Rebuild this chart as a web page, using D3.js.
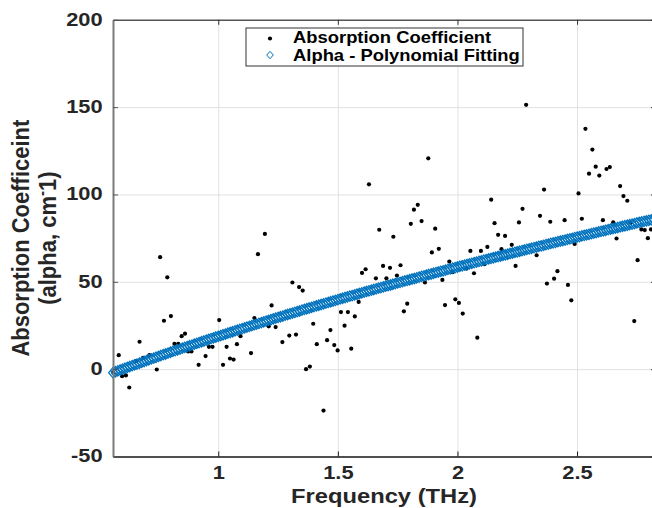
<!DOCTYPE html>
<html>
<head>
<meta charset="utf-8">
<script src="https://cdn.jsdelivr.net/npm/d3@7"></script>
<style>
html, body { margin: 0; padding: 0; background: #fff; }
svg { display: block; font-family: "Liberation Sans", Arial, Helvetica, sans-serif; font-weight: bold; }
</style>
</head>
<body>
<div id="chart"></div>
<script>
// measured points (THz, cm^-1)
const freq = [0.561,0.584,0.598,0.614,0.628,0.657,0.671,0.686,0.712,0.743,0.757,0.773,0.787,0.802,0.817,0.833,0.847,0.861,0.874,0.888,
  0.918,0.947,0.961,0.976,1.004,1.020,1.035,1.049,1.064,1.078,1.093,1.137,1.151,1.166,1.195,1.211,1.223,1.240,1.268,1.297,
  1.310,1.325,1.338,1.353,1.367,1.383,1.397,1.412,1.440,1.455,1.469,1.485,1.499,1.513,1.528,1.542,1.556,1.571,1.587,1.601,
  1.616,1.630,1.659,1.673,1.689,1.703,1.718,1.732,1.747,1.762,1.776,1.790,1.805,1.818,1.834,1.850,1.864,1.878,1.893,1.907,
  1.922,1.937,1.948,1.966,1.980,1.991,2.006,2.022,2.038,2.054,2.069,2.083,2.098,2.112,2.125,2.141,2.155,2.170,2.184,2.199,
  2.227,2.243,2.257,2.272,2.287,2.331,2.345,2.362,2.374,2.388,2.404,2.418,2.448,2.462,2.476,2.490,2.506,2.520,2.535,2.550,
  2.564,2.578,2.593,2.608,2.623,2.637,2.651,2.665,2.680,2.694,2.710,2.724,2.739,2.753,2.769,2.783,2.796,2.809];
const alpha = [-2.1,8.0,-4.0,-3.6,-10.5,4.6,15.7,6.5,8.0,-0.2,64.1,27.7,52.6,30.4,14.5,14.5,18.9,20.3,10.1,10.1,
  2.5,7.5,12.8,12.8,28.1,2.5,12.8,6.1,5.5,14.3,18.9,9.2,29.3,65.8,77.4,24.5,36.5,24.1,15.5,19.2,
  49.6,19.8,47.0,45.0,0.0,1.5,26.0,14.3,-23.7,16.6,22.4,13.8,10.7,32.7,24.9,32.7,11.7,30.2,38.5,55.1,
  57.2,105.8,52.0,79.8,59.1,52.0,58.0,75.8,53.6,59.5,33.1,37.5,83.2,91.3,94.1,84.8,49.6,120.7,66.8,80.4,
  68.9,51.1,36.7,61.6,55.5,40.0,37.9,31.8,57.6,67.7,54.9,18.0,67.7,60.1,70.0,97.0,83.6,76.9,68.7,76.3,
  71.2,59.1,84.0,91.8,151.3,65.2,87.8,102.8,49.0,84.4,51.8,56.1,85.3,48.2,39.4,71.7,100.6,86.1,137.6,111.9,
  125.7,115.9,110.8,85.3,114.6,115.7,84.0,74.8,104.8,99.1,96.4,83.8,27.5,62.4,80.0,79.6,75.0,80.0];

// polynomial fit curve
const fitFreq = [0.56,0.57,0.58,0.59,0.60,
  0.61,0.62,0.63,0.64,0.65,0.66,0.67,0.68,0.69,0.70,
  0.71,0.72,0.73,0.74,0.75,0.76,0.77,0.78,0.79,0.80,
  0.81,0.82,0.83,0.84,0.85,0.86,0.87,0.88,0.89,0.90,
  0.91,0.92,0.93,0.94,0.95,0.96,0.97,0.98,0.99,1.00,
  1.01,1.02,1.03,1.04,1.05,1.06,1.07,1.08,1.09,1.10,
  1.11,1.12,1.13,1.14,1.15,1.16,1.17,1.18,1.19,1.20,
  1.21,1.22,1.23,1.24,1.25,1.26,1.27,1.28,1.29,1.30,
  1.31,1.32,1.33,1.34,1.35,1.36,1.37,1.38,1.39,1.40,
  1.41,1.42,1.43,1.44,1.45,1.46,1.47,1.48,1.49,1.50,
  1.51,1.52,1.53,1.54,1.55,1.56,1.57,1.58,1.59,1.60,
  1.61,1.62,1.63,1.64,1.65,1.66,1.67,1.68,1.69,1.70,
  1.71,1.72,1.73,1.74,1.75,1.76,1.77,1.78,1.79,1.80,
  1.81,1.82,1.83,1.84,1.85,1.86,1.87,1.88,1.89,1.90,
  1.91,1.92,1.93,1.94,1.95,1.96,1.97,1.98,1.99,2.00,
  2.01,2.02,2.03,2.04,2.05,2.06,2.07,2.08,2.09,2.10,
  2.11,2.12,2.13,2.14,2.15,2.16,2.17,2.18,2.19,2.20,
  2.21,2.22,2.23,2.24,2.25,2.26,2.27,2.28,2.29,2.30,
  2.31,2.32,2.33,2.34,2.35,2.36,2.37,2.38,2.39,2.40,
  2.41,2.42,2.43,2.44,2.45,2.46,2.47,2.48,2.49,2.50,
  2.51,2.52,2.53,2.54,2.55,2.56,2.57,2.58,2.59,2.60,
  2.61,2.62,2.63,2.64,2.65,2.66,2.67,2.68,2.69,2.70,
  2.71,2.72,2.73,2.74,2.75,2.76,2.77,2.78,2.79,2.80,
  2.81,2.82];
const fitAlpha = [-2.0,-1.5,-1.0,-0.5,0.0,
  0.5,1.0,1.5,2.0,2.5,2.9,3.4,3.9,4.4,4.9,
  5.4,5.9,6.3,6.8,7.3,7.8,8.3,8.7,9.2,9.7,
  10.2,10.6,11.1,11.5,12.0,12.5,12.9,13.4,13.8,14.3,
  14.8,15.2,15.7,16.1,16.6,17.0,17.5,17.9,18.4,18.8,
  19.2,19.7,20.1,20.6,21.0,21.4,21.9,22.3,22.8,23.2,
  23.6,24.1,24.5,24.9,25.4,25.8,26.2,26.6,27.1,27.5,
  27.9,28.3,28.8,29.2,29.6,30.0,30.4,30.9,31.3,31.7,
  32.1,32.5,32.9,33.3,33.8,34.2,34.6,35.0,35.4,35.8,
  36.2,36.6,37.0,37.4,37.8,38.2,38.6,39.0,39.4,39.8,
  40.2,40.6,41.0,41.4,41.8,42.1,42.5,42.9,43.3,43.7,
  44.1,44.5,44.8,45.2,45.6,46.0,46.4,46.7,47.1,47.5,
  47.9,48.2,48.6,49.0,49.4,49.7,50.1,50.5,50.8,51.2,
  51.6,51.9,52.3,52.7,53.1,53.4,53.8,54.2,54.5,54.9,
  55.3,55.6,56.0,56.3,56.7,57.1,57.4,57.8,58.1,58.5,
  58.9,59.2,59.6,59.9,60.3,60.6,61.0,61.3,61.7,62.0,
  62.4,62.7,63.1,63.4,63.8,64.1,64.5,64.8,65.2,65.5,
  65.8,66.2,66.5,66.9,67.2,67.5,67.9,68.2,68.6,68.9,
  69.2,69.6,69.9,70.3,70.6,70.9,71.3,71.6,72.0,72.3,
  72.6,73.0,73.3,73.6,73.9,74.3,74.6,74.9,75.3,75.6,
  75.9,76.3,76.6,76.9,77.2,77.6,77.9,78.2,78.6,78.9,
  79.2,79.5,79.9,80.2,80.5,80.8,81.1,81.5,81.8,82.1,
  82.4,82.7,83.0,83.3,83.7,84.0,84.3,84.6,84.9,85.2,
  85.5,85.8];

const xTicks = [1, 1.5, 2, 2.5];
const yTicks = [-50, 0, 50, 100, 150, 200];
const legendLabels = ["Absorption Coefficient", "Alpha - Polynomial Fitting"];

const W = 652, H = 508;
const pLeft = 113, pRight = 656, pTop = 19.8, pBottom = 456.5;
const blue = "#0072BD", ink = "#262626";

const svg = d3.select("#chart").append("svg")
  .attr("width", W)
  .attr("height", H);

const x = d3.scaleLinear().domain([0.56, 2.83]).range([pLeft, pRight]);
const y = d3.scaleLinear().domain([-50, 200]).range([pBottom, pTop]);

// grid
svg.append("g")
  .attr("transform", `translate(0,${pBottom})`)
  .call(d3.axisBottom(x).tickValues(xTicks).tickSize(-(pBottom - pTop)).tickFormat(""))
  .call(g => g.select(".domain").remove())
  .selectAll("line").attr("stroke", "#e1e1e1");
svg.append("g")
  .attr("transform", `translate(${pLeft},0)`)
  .call(d3.axisLeft(y).tickValues(yTicks).tickSize(-(pRight - pLeft)).tickFormat(""))
  .call(g => g.select(".domain").remove())
  .selectAll("line").attr("stroke", "#e1e1e1");

// measured dots
svg.append("g")
  .selectAll("circle")
  .data(freq.map((f, i) => [f, alpha[i]]))
  .join("circle")
  .attr("cx", d => x(d[0]))
  .attr("cy", d => y(d[1]))
  .attr("r", 2.1)
  .attr("fill", "#000");

// fit diamonds
const bigDiamond = "M0,-5.2L4.4,0L0,5.2L-4.4,0Z";
const smallDiamond = "M0,-3.7L3.3,0L0,3.7L-3.3,0Z";
svg.append("g")
  .selectAll("path")
  .data(fitFreq.map((f, i) => [f, fitAlpha[i]]))
  .join("path")
  .attr("d", bigDiamond)
  .attr("transform", d => `translate(${x(d[0])},${y(d[1])})`)
  .attr("fill", "none")
  .attr("stroke", blue)
  .attr("stroke-width", 1.25);

// axes
const xAxis = svg.append("g")
  .attr("transform", `translate(0,${pBottom})`)
  .call(d3.axisBottom(x).tickValues(xTicks).tickSize(-5).tickSizeOuter(0).tickPadding(9).tickFormat(d => String(d)));
xAxis.select(".domain").attr("stroke", "#1a1a1a").attr("stroke-width", 1.5);
xAxis.selectAll(".tick line").attr("stroke", "#1a1a1a");
xAxis.selectAll("text")
  .attr("fill", ink)
  .style("font-size", "19px")
  .attr("transform", "scale(1.15,1)");

const yAxis = svg.append("g")
  .attr("transform", `translate(${pLeft},0)`)
  .call(d3.axisLeft(y).tickValues(yTicks).tickSize(-5).tickSizeOuter(0).tickPadding(9).tickFormat(d => String(d)));
yAxis.select(".domain").attr("stroke", "#7a7a7a").attr("stroke-width", 2);
yAxis.selectAll(".tick line").attr("stroke", "#555");
yAxis.selectAll("text")
  .attr("fill", ink)
  .attr("dy", "0.28em")
  .style("font-size", "19px")
  .attr("transform", "scale(1.15,1)");

const topAxis = svg.append("g")
  .attr("transform", `translate(0,${pTop})`)
  .call(d3.axisTop(x).tickValues(xTicks).tickSize(-5).tickSizeOuter(0).tickFormat(""));
topAxis.select(".domain").attr("stroke", "#555").attr("stroke-width", 1.5);
topAxis.selectAll(".tick line").attr("stroke", "#333");

const rightAxis = svg.append("g")
  .attr("transform", `translate(${pRight},0)`)
  .call(d3.axisRight(y).tickValues(yTicks).tickSize(-5).tickSizeOuter(0).tickFormat(""));
rightAxis.select(".domain").attr("stroke", "#555").attr("stroke-width", 1.5);
rightAxis.selectAll(".tick line").attr("stroke", "#333");

// axis titles
svg.append("text")
  .attr("text-anchor", "middle")
  .attr("transform", "translate(384,503) scale(1.13,1)")
  .style("font-size", "21px")
  .attr("fill", ink)
  .text("Frequency (THz)");

const cy = (pTop + pBottom) / 2;
svg.append("text")
  .attr("text-anchor", "middle")
  .attr("transform", `translate(29,${cy}) rotate(-90) scale(1,1.08)`)
  .style("font-size", "22px")
  .attr("fill", ink)
  .text("Absorption Coefficeint");

const yl2 = svg.append("text")
  .attr("text-anchor", "middle")
  .attr("transform", `translate(56,${cy}) rotate(-90) scale(1,1.08)`)
  .style("font-size", "22px")
  .attr("fill", ink);
yl2.append("tspan").text("(alpha, cm");
yl2.append("tspan").attr("dy", -8).style("font-size", "15px").text("-");
yl2.append("tspan").attr("dy", 8).text("1)");

// legend
const lg = svg.append("g");
lg.append("rect")
  .attr("x", 246).attr("y", 28)
  .attr("width", 277).attr("height", 38)
  .attr("fill", "#fff")
  .attr("stroke", "#333")
  .attr("stroke-width", 1);
lg.append("circle")
  .attr("cx", 270).attr("cy", 38.5).attr("r", 2.1).attr("fill", "#000");
lg.append("path")
  .attr("d", smallDiamond)
  .attr("transform", "translate(270,55)")
  .attr("fill", "none").attr("stroke", blue);
lg.selectAll("text.lbl")
  .data(legendLabels)
  .join("text")
  .attr("class", "lbl")
  .attr("transform", (d, i) => `translate(293,${42.5 + i * 18}) scale(1.15,1)`)
  .style("font-size", "16px")
  .attr("fill", "#000")
  .text(d => d);
</script>
</body>
</html>
